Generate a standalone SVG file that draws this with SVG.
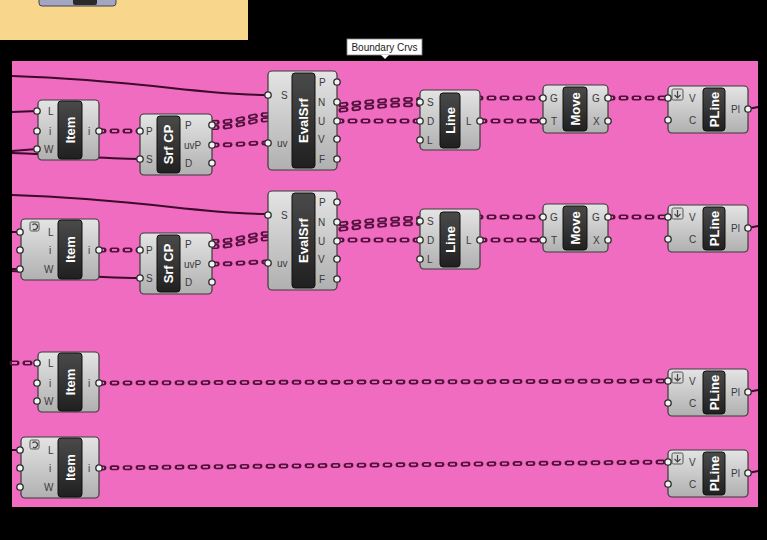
<svg xmlns="http://www.w3.org/2000/svg" xmlns:xlink="http://www.w3.org/1999/xlink" width="767" height="540" viewBox="0 0 767 540">
<defs>
<linearGradient id="gb" x1="0" y1="0" x2="0" y2="1"><stop offset="0" stop-color="#e4e4e4"/><stop offset="1" stop-color="#b0b0b0"/></linearGradient>
<linearGradient id="gd" x1="0" y1="0" x2="0" y2="1"><stop offset="0" stop-color="#4a4a4a"/><stop offset="1" stop-color="#202020"/></linearGradient>
<style>
.body{fill:url(#gb);stroke:#3a3a3a;stroke-width:1.2}
.core{fill:url(#gd);stroke:#111;stroke-width:1}
.port{fill:#f2f2f2;stroke:#2a2a2a;stroke-width:1.3}
.icon{fill:#d8d8d8;stroke:#555;stroke-width:1}
.ig{fill:none;stroke:#444;stroke-width:1.2}
.lbl{font-family:"Liberation Sans",Arial,sans-serif;font-size:10px;fill:#3a3a3a}
.ttl{font-family:"Liberation Sans",Arial,sans-serif;font-size:13px;font-weight:bold;fill:#fff;text-anchor:middle;dominant-baseline:central}
.sw{fill:none;stroke:#3d0a2c;stroke-width:2}
.o{fill:none;stroke:#55123f;stroke-width:5;stroke-dasharray:5 8;stroke-linecap:round}
.i{fill:none;stroke:#f06cc0;stroke-width:1.8;stroke-dasharray:5 8}
.tip{font-family:"Liberation Sans",Arial,sans-serif;font-size:10px;fill:#222;text-anchor:middle}
</style>
</defs>
<rect x="0" y="0" width="767" height="540" fill="#000"/>
<rect x="0" y="0" width="248" height="40" fill="#F8D68C"/>
<g id="topnode">
<rect x="39" y="-6" width="77" height="12" rx="3" fill="#a2a6c2" stroke="#444" stroke-width="1"/>
<rect x="73" y="-6" width="24" height="11" rx="2" fill="#2a2a2a"/>
</g>
<rect x="12" y="61" width="746" height="446" fill="#F06CC0"/>
<g id="tooltip">
<rect x="347" y="39" width="75" height="16" fill="#fff" stroke="#888" stroke-width="0.8"/>
<polygon points="381,55 389,55 385,59" fill="#fff"/>
<text class="tip" x="384.5" y="51">Boundary Crvs</text>
</g>
<g id="connectors">
<path class="sw" d="M12,76 C140,80 200,95 268,95"/>
<path class="sw" d="M12,112 L37,111"/>
<path class="sw" d="M12,151 L37,149"/>
<path class="sw" d="M12,153 C70,155 100,159 140,159"/>
<path class="sw" d="M12,195 C140,199 200,214 268,214"/>
<path class="sw" d="M12,232 L20,232"/>
<path class="sw" d="M12,269 L20,269"/>
<path class="sw" d="M12,271 C60,274 100,278 140,278"/>
<g id="row1w">
<path class="o" d="M99,131 L140,131"/><path class="i" d="M99,131 L140,131"/>
<g transform="translate(0,-2.6)"><path class="o" d="M212,125 C238,125 248,118 268,117 L337,108 C370,104 395,102 420,102"/><path class="i" d="M212,125 C238,125 248,118 268,117 L337,108 C370,104 395,102 420,102"/></g>
<g transform="translate(0,2.6)"><path class="o" d="M212,125 C238,125 248,118 268,117 L337,108 C370,104 395,102 420,102"/><path class="i" d="M212,125 C238,125 248,118 268,117 L337,108 C370,104 395,102 420,102"/></g>
<path class="o" d="M212,145 C240,145 245,143 268,143"/><path class="i" d="M212,145 C240,145 245,143 268,143"/>
<path class="o" d="M337,121 L420,121"/><path class="i" d="M337,121 L420,121"/>
<path class="o" d="M450,98 L543,98"/><path class="i" d="M450,98 L543,98"/>
<path class="o" d="M480,121 L543,121"/><path class="i" d="M480,121 L543,121"/>
<path class="o" d="M608,98 L668,98"/><path class="i" d="M608,98 L668,98"/>
<path class="sw" d="M748,109 L758,107"/>
</g>
<g transform="translate(0,119)">
<path class="o" d="M99,131 L140,131"/><path class="i" d="M99,131 L140,131"/>
<g transform="translate(0,-2.6)"><path class="o" d="M212,125 C238,125 248,118 268,117 L337,108 C370,104 395,102 420,102"/><path class="i" d="M212,125 C238,125 248,118 268,117 L337,108 C370,104 395,102 420,102"/></g>
<g transform="translate(0,2.6)"><path class="o" d="M212,125 C238,125 248,118 268,117 L337,108 C370,104 395,102 420,102"/><path class="i" d="M212,125 C238,125 248,118 268,117 L337,108 C370,104 395,102 420,102"/></g>
<path class="o" d="M212,145 C240,145 245,143 268,143"/><path class="i" d="M212,145 C240,145 245,143 268,143"/>
<path class="o" d="M337,121 L420,121"/><path class="i" d="M337,121 L420,121"/>
<path class="o" d="M450,98 L543,98"/><path class="i" d="M450,98 L543,98"/>
<path class="o" d="M480,121 L543,121"/><path class="i" d="M480,121 L543,121"/>
<path class="o" d="M608,98 L668,98"/><path class="i" d="M608,98 L668,98"/>
<path class="sw" d="M748,109 L758,107"/>
</g>
<path class="o" d="M12,363 L37,363"/><path class="i" d="M12,363 L37,363"/>
<path class="o" d="M99,383 L668,381"/><path class="i" d="M99,383 L668,381"/>
<path class="sw" d="M748,392 L758,390"/>
<path class="sw" d="M12,450 L20,450"/>
<path class="o" d="M99,468 L668,462"/><path class="i" d="M99,468 L668,462"/>
<path class="sw" d="M748,473 L758,471"/>
</g>
<g id="item1">
<rect class="body" x="38" y="100" width="61" height="60" rx="4"/>
<rect class="core" x="58" y="101" width="24" height="58" rx="3"/>
<circle class="port" cx="37" cy="111" r="3.2"/><circle class="port" cx="37" cy="131" r="3.2"/><circle class="port" cx="37" cy="149" r="3.2"/><circle class="port" cx="99" cy="131" r="3.2"/>
<text class="lbl" x="48" y="115">L</text><text class="lbl" x="49" y="135">i</text><text class="lbl" x="44" y="153">W</text><text class="lbl" x="88" y="135">i</text>
<text class="ttl" transform="translate(70,130) rotate(-90)">Item</text>
</g>
<g id="item3" transform="translate(0,252)">
<rect class="body" x="38" y="100" width="61" height="60" rx="4"/>
<rect class="core" x="58" y="101" width="24" height="58" rx="3"/>
<circle class="port" cx="37" cy="111" r="3.2"/><circle class="port" cx="37" cy="131" r="3.2"/><circle class="port" cx="37" cy="149" r="3.2"/><circle class="port" cx="99" cy="131" r="3.2"/>
<text class="lbl" x="48" y="115">L</text><text class="lbl" x="49" y="135">i</text><text class="lbl" x="44" y="153">W</text><text class="lbl" x="88" y="135">i</text>
<text class="ttl" transform="translate(70,130) rotate(-90)">Item</text>
</g>
<g id="item2">
<rect class="body" x="21" y="219" width="78" height="61" rx="4"/>
<rect class="core" x="58" y="220" width="24" height="59" rx="3"/>
<rect class="icon" x="30" y="222" width="9" height="9" rx="1.5"/>
<path class="ig" d="M32.5,225 A2.8,2.8 0 1 1 33,229"/>
<circle class="port" cx="20" cy="232" r="3.2"/><circle class="port" cx="20" cy="250" r="3.2"/><circle class="port" cx="20" cy="269" r="3.2"/><circle class="port" cx="99" cy="250" r="3.2"/>
<text class="lbl" x="48" y="236">L</text><text class="lbl" x="49" y="254">i</text><text class="lbl" x="44" y="273">W</text><text class="lbl" x="88" y="254">i</text>
<text class="ttl" transform="translate(70,249.5) rotate(-90)">Item</text>
</g>
<g id="item4" transform="translate(0,218)">
<rect class="body" x="21" y="219" width="78" height="61" rx="4"/>
<rect class="core" x="58" y="220" width="24" height="59" rx="3"/>
<rect class="icon" x="30" y="222" width="9" height="9" rx="1.5"/>
<path class="ig" d="M32.5,225 A2.8,2.8 0 1 1 33,229"/>
<circle class="port" cx="20" cy="232" r="3.2"/><circle class="port" cx="20" cy="250" r="3.2"/><circle class="port" cx="20" cy="269" r="3.2"/><circle class="port" cx="99" cy="250" r="3.2"/>
<text class="lbl" x="48" y="236">L</text><text class="lbl" x="49" y="254">i</text><text class="lbl" x="44" y="273">W</text><text class="lbl" x="88" y="254">i</text>
<text class="ttl" transform="translate(70,249.5) rotate(-90)">Item</text>
</g>
<g id="srfcp1">
<rect class="body" x="140" y="114" width="72" height="61" rx="4"/>
<rect class="core" x="157" y="116" width="23" height="57" rx="3"/>
<circle class="port" cx="140" cy="131" r="3.2"/><circle class="port" cx="140" cy="159" r="3.2"/>
<circle class="port" cx="212" cy="125" r="3.2"/><circle class="port" cx="212" cy="145" r="3.2"/><circle class="port" cx="212" cy="163" r="3.2"/>
<text class="lbl" x="146" y="135">P</text><text class="lbl" x="146" y="163">S</text>
<text class="lbl" x="185" y="129">P</text><text class="lbl" x="184" y="149">uvP</text><text class="lbl" x="185" y="167">D</text>
<text class="ttl" transform="translate(168.5,144.5) rotate(-90)">Srf CP</text>
</g>
<g id="srfcp2" transform="translate(0,119)">
<rect class="body" x="140" y="114" width="72" height="61" rx="4"/>
<rect class="core" x="157" y="116" width="23" height="57" rx="3"/>
<circle class="port" cx="140" cy="131" r="3.2"/><circle class="port" cx="140" cy="159" r="3.2"/>
<circle class="port" cx="212" cy="125" r="3.2"/><circle class="port" cx="212" cy="145" r="3.2"/><circle class="port" cx="212" cy="163" r="3.2"/>
<text class="lbl" x="146" y="135">P</text><text class="lbl" x="146" y="163">S</text>
<text class="lbl" x="185" y="129">P</text><text class="lbl" x="184" y="149">uvP</text><text class="lbl" x="185" y="167">D</text>
<text class="ttl" transform="translate(168.5,144.5) rotate(-90)">Srf CP</text>
</g>
<g id="evalsrf1">
<rect class="body" x="268" y="71" width="69" height="99" rx="4"/>
<rect class="core" x="292" y="73" width="23" height="95" rx="3"/>
<circle class="port" cx="268" cy="95" r="3.2"/><circle class="port" cx="268" cy="143" r="3.2"/>
<circle class="port" cx="337" cy="82" r="3.2"/><circle class="port" cx="337" cy="102" r="3.2"/><circle class="port" cx="337" cy="121" r="3.2"/><circle class="port" cx="337" cy="139" r="3.2"/><circle class="port" cx="337" cy="159" r="3.2"/>
<text class="lbl" x="281" y="99">S</text><text class="lbl" x="277" y="147">uv</text>
<text class="lbl" x="319" y="86">P</text><text class="lbl" x="318" y="106">N</text><text class="lbl" x="318" y="125">U</text><text class="lbl" x="318" y="143">V</text><text class="lbl" x="319" y="163">F</text>
<text class="ttl" transform="translate(303.5,120.5) rotate(-90)">EvalSrf</text>
</g>
<g id="evalsrf2" transform="translate(0,120)">
<rect class="body" x="268" y="71" width="69" height="99" rx="4"/>
<rect class="core" x="292" y="73" width="23" height="95" rx="3"/>
<circle class="port" cx="268" cy="95" r="3.2"/><circle class="port" cx="268" cy="143" r="3.2"/>
<circle class="port" cx="337" cy="82" r="3.2"/><circle class="port" cx="337" cy="102" r="3.2"/><circle class="port" cx="337" cy="121" r="3.2"/><circle class="port" cx="337" cy="139" r="3.2"/><circle class="port" cx="337" cy="159" r="3.2"/>
<text class="lbl" x="281" y="99">S</text><text class="lbl" x="277" y="147">uv</text>
<text class="lbl" x="319" y="86">P</text><text class="lbl" x="318" y="106">N</text><text class="lbl" x="318" y="125">U</text><text class="lbl" x="318" y="143">V</text><text class="lbl" x="319" y="163">F</text>
<text class="ttl" transform="translate(303.5,120.5) rotate(-90)">EvalSrf</text>
</g>
<g id="line1">
<rect class="body" x="420" y="90" width="60" height="60" rx="4"/>
<rect class="core" x="440" y="93" width="20" height="55" rx="3"/>
<circle class="port" cx="420" cy="102" r="3.2"/><circle class="port" cx="420" cy="121" r="3.2"/><circle class="port" cx="420" cy="140" r="3.2"/><circle class="port" cx="480" cy="121" r="3.2"/>
<text class="lbl" x="427" y="106">S</text><text class="lbl" x="427" y="125">D</text><text class="lbl" x="427" y="144">L</text><text class="lbl" x="466" y="125">L</text>
<text class="ttl" transform="translate(450,120.5) rotate(-90)">Line</text>
</g>
<g id="line2" transform="translate(0,119)">
<rect class="body" x="420" y="90" width="60" height="60" rx="4"/>
<rect class="core" x="440" y="93" width="20" height="55" rx="3"/>
<circle class="port" cx="420" cy="102" r="3.2"/><circle class="port" cx="420" cy="121" r="3.2"/><circle class="port" cx="420" cy="140" r="3.2"/><circle class="port" cx="480" cy="121" r="3.2"/>
<text class="lbl" x="427" y="106">S</text><text class="lbl" x="427" y="125">D</text><text class="lbl" x="427" y="144">L</text><text class="lbl" x="466" y="125">L</text>
<text class="ttl" transform="translate(450,120.5) rotate(-90)">Line</text>
</g>
<g id="move1">
<rect class="body" x="543" y="85" width="65" height="48" rx="4"/>
<rect class="core" x="563" y="87" width="24" height="44" rx="3"/>
<circle class="port" cx="543" cy="98" r="3.2"/><circle class="port" cx="543" cy="121" r="3.2"/><circle class="port" cx="608" cy="98" r="3.2"/><circle class="port" cx="608" cy="121" r="3.2"/>
<text class="lbl" x="550" y="102">G</text><text class="lbl" x="551" y="125">T</text><text class="lbl" x="592" y="102">G</text><text class="lbl" x="593" y="125">X</text>
<text class="ttl" transform="translate(575,109) rotate(-90)">Move</text>
</g>
<g id="move2" transform="translate(0,119)">
<rect class="body" x="543" y="85" width="65" height="48" rx="4"/>
<rect class="core" x="563" y="87" width="24" height="44" rx="3"/>
<circle class="port" cx="543" cy="98" r="3.2"/><circle class="port" cx="543" cy="121" r="3.2"/><circle class="port" cx="608" cy="98" r="3.2"/><circle class="port" cx="608" cy="121" r="3.2"/>
<text class="lbl" x="550" y="102">G</text><text class="lbl" x="551" y="125">T</text><text class="lbl" x="592" y="102">G</text><text class="lbl" x="593" y="125">X</text>
<text class="ttl" transform="translate(575,109) rotate(-90)">Move</text>
</g>
<g id="pline1">
<rect class="body" x="668" y="86" width="80" height="47" rx="4"/>
<rect class="core" x="703" y="88" width="22" height="43" rx="3"/>
<rect class="icon" x="672" y="89" width="11" height="11" rx="1.5"/>
<path class="ig" d="M677.5,91 V98 M674.5,95 L677.5,98 L680.5,95"/>
<circle class="port" cx="668" cy="98" r="3.2"/><circle class="port" cx="668" cy="120" r="3.2"/><circle class="port" cx="748" cy="109" r="3.2"/>
<text class="lbl" x="689" y="102">V</text><text class="lbl" x="689" y="124">C</text><text class="lbl" x="731" y="113">Pl</text>
<text class="ttl" transform="translate(714,109.5) rotate(-90)">PLine</text>
</g>
<g id="pline2" transform="translate(0,119)">
<rect class="body" x="668" y="86" width="80" height="47" rx="4"/>
<rect class="core" x="703" y="88" width="22" height="43" rx="3"/>
<rect class="icon" x="672" y="89" width="11" height="11" rx="1.5"/>
<path class="ig" d="M677.5,91 V98 M674.5,95 L677.5,98 L680.5,95"/>
<circle class="port" cx="668" cy="98" r="3.2"/><circle class="port" cx="668" cy="120" r="3.2"/><circle class="port" cx="748" cy="109" r="3.2"/>
<text class="lbl" x="689" y="102">V</text><text class="lbl" x="689" y="124">C</text><text class="lbl" x="731" y="113">Pl</text>
<text class="ttl" transform="translate(714,109.5) rotate(-90)">PLine</text>
</g>
<g id="pline3" transform="translate(0,283)">
<rect class="body" x="668" y="86" width="80" height="47" rx="4"/>
<rect class="core" x="703" y="88" width="22" height="43" rx="3"/>
<rect class="icon" x="672" y="89" width="11" height="11" rx="1.5"/>
<path class="ig" d="M677.5,91 V98 M674.5,95 L677.5,98 L680.5,95"/>
<circle class="port" cx="668" cy="98" r="3.2"/><circle class="port" cx="668" cy="120" r="3.2"/><circle class="port" cx="748" cy="109" r="3.2"/>
<text class="lbl" x="689" y="102">V</text><text class="lbl" x="689" y="124">C</text><text class="lbl" x="731" y="113">Pl</text>
<text class="ttl" transform="translate(714,109.5) rotate(-90)">PLine</text>
</g>
<g id="pline4" transform="translate(0,364)">
<rect class="body" x="668" y="86" width="80" height="47" rx="4"/>
<rect class="core" x="703" y="88" width="22" height="43" rx="3"/>
<rect class="icon" x="672" y="89" width="11" height="11" rx="1.5"/>
<path class="ig" d="M677.5,91 V98 M674.5,95 L677.5,98 L680.5,95"/>
<circle class="port" cx="668" cy="98" r="3.2"/><circle class="port" cx="668" cy="120" r="3.2"/><circle class="port" cx="748" cy="109" r="3.2"/>
<text class="lbl" x="689" y="102">V</text><text class="lbl" x="689" y="124">C</text><text class="lbl" x="731" y="113">Pl</text>
<text class="ttl" transform="translate(714,109.5) rotate(-90)">PLine</text>
</g>
</svg>
